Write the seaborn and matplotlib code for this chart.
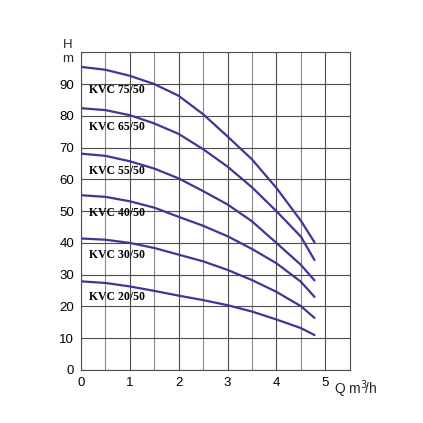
import matplotlib.pyplot as plt
import matplotlib.transforms as mtransforms
import seaborn as sns
import pandas as pd

q = [0, 0.5, 1, 1.5, 2, 2.5, 3, 3.5, 4, 4.5, 4.78]

# head H (m) for each pump model
kvc_75 = [95.4, 94.5, 92.6, 90.0, 86.3, 80.5, 73.5, 66.3, 57.3, 47.0, 40.2]
kvc_65 = [82.4, 81.8, 80.2, 77.6, 74.3, 69.5, 64.0, 57.5, 50.0, 42.0, 34.6]
kvc_55 = [68.1, 67.4, 65.7, 63.4, 60.3, 56.3, 52.1, 46.8, 40.0, 33.1, 28.2]
kvc_40 = [55.0, 54.5, 53.1, 51.1, 48.2, 45.4, 42.1, 38.1, 33.6, 27.8, 23.0]
kvc_30 = [41.4, 41.0, 40.0, 38.4, 36.3, 34.2, 31.5, 28.3, 24.6, 20.1, 16.4]
kvc_20 = [27.9, 27.4, 26.3, 24.9, 23.4, 22.0, 20.4, 18.4, 15.9, 13.2, 11.0]

models = ["KVC 75/50", "KVC 65/50", "KVC 55/50", "KVC 40/50", "KVC 30/50", "KVC 20/50"]
curves = [kvc_75, kvc_65, kvc_55, kvc_40, kvc_30, kvc_20]
label_y = [88, 76.6, 62.6, 49.5, 36.3, 23]

x_ticks = [0, 1, 2, 3, 4, 5]
y_ticks = [0, 10, 20, 30, 40, 50, 60, 70, 80, 90]

rows = []
for name, vals in zip(models, curves):
    for qq, h in zip(q, vals):
        rows.append({"Q": qq, "H": h, "model": name})
df = pd.DataFrame(rows)

sns.set_style("white")
plt.rcParams['font.family'] = ['Liberation Sans', 'DejaVu Sans']

line_col = "#3d3795"

fig = plt.figure(figsize=(4.23, 4.23), dpi=100)
ax = fig.add_axes([0.1915, 0.1253, 0.6352, 0.7511])

sns.lineplot(data=df, x="Q", y="H", hue="model", palette=[line_col] * len(models),
             linewidth=1.6, legend=False, ax=ax, sort=False)
for ln in ax.lines:
    ln.set_solid_joinstyle("round")

ax.set_xlim(0, 5.5)
ax.set_ylim(0, 100)
ax.set_xticks(x_ticks)
ax.set_yticks(y_ticks)
ax.set_xticks([0.5, 1.5, 2.5, 3.5, 4.5], minor=True)
ax.grid(which="major", color="#4d4d4d", linewidth=0.8)
ax.grid(which="minor", axis="x", color="#8a8a8a", linewidth=0.8)
ax.set_axisbelow(True)
for sp in ax.spines.values():
    sp.set_color("#4d4d4d")
    sp.set_linewidth(0.8)
ax.tick_params(which="major", direction="out", length=3, width=0.8, color="#4d4d4d",
               labelsize=9.5, pad=2, labelcolor="black")
ax.tick_params(which="minor", direction="out", length=3, width=0.8, color="#8a8a8a")
ax.set_xlabel("")
ax.set_ylabel("")

for name, ly in zip(models, label_y):
    ax.text(0.17, ly, name, fontsize=8.5, fontweight="bold", va="center", ha="left",
            family=["Liberation Serif", "DejaVu Serif"], color="black")

# axis titles
ax.text(-0.048, 1.003, "H", transform=ax.transAxes, fontsize=9.5, ha="center", va="bottom")
ax.text(-0.048, 0.998, "m", transform=ax.transAxes, fontsize=9.5, ha="center", va="top")
trans = mtransforms.blended_transform_factory(ax.transData, ax.transAxes)
ax.text(5.18, -0.027, "Q m$^3\\!$/h", transform=trans, fontsize=10, ha="left", va="top")

fig.savefig("out.png", dpi=100, facecolor="white")
